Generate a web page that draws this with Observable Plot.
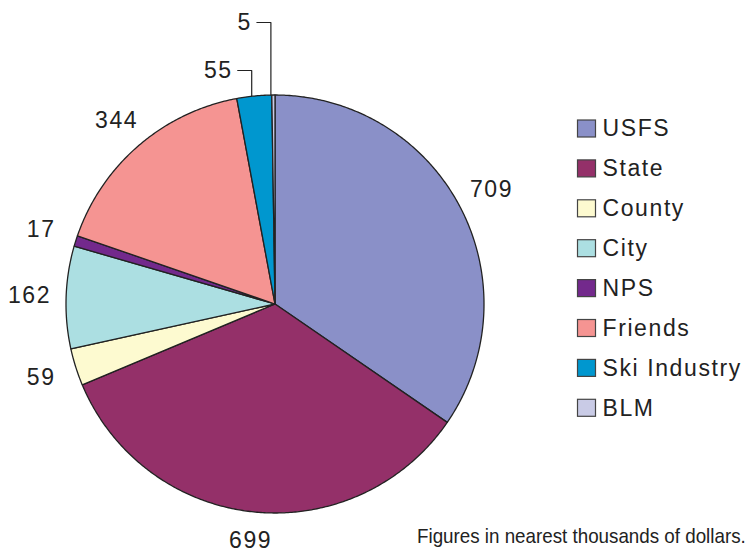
<!DOCTYPE html>
<html>
<head>
<meta charset="utf-8">
<script src="https://cdn.jsdelivr.net/npm/d3@7"></script>
<script src="https://cdn.jsdelivr.net/npm/@observablehq/plot@0.6"></script>
<style>
  html, body { margin: 0; padding: 0; background: #fff; }
  #chart { width: 750px; height: 552px; }
  #chart svg text { font-family: 'Liberation Sans', Arimo, Arial, Helvetica, sans-serif; }
  #chart svg .foot text { font-family: 'Liberation Sans Narrow', 'Liberation Sans', sans-serif; }
</style>
</head>
<body>
<div id="chart"></div>
<script>
// ---- data ----
const categories = ["USFS", "State", "County", "City", "NPS", "Friends", "Ski Industry", "BLM"];
const values = [709, 699, 59, 162, 17, 344, 55, 5];
const colors = ["#8a90c8", "#943069", "#fdfad0", "#acdfe2", "#73298c", "#f59492", "#0097cf", "#c9cbe6"];
const valueLabels = ["709", "699", "59", "162", "17", "344", "55", "5"];
const footnote = "Figures in nearest thousands of dollars.";

// ---- layout (pixels) ----
const W = 750, H = 552, cx = 274.5, cy = 303.5, R = 209;
const dx = px => (px - cx) / R;       // pixel -> data x
const dy = py => (cy - py) / R;       // pixel -> data y

// ---- pie geometry in data units (radius = 1) ----
const total = d3.sum(values);
const slices = [];
let acc = 0;
categories.forEach((c, i) => {
  const a0 = acc / total * 2 * Math.PI;
  acc += values[i];
  const a1 = acc / total * 2 * Math.PI;
  slices.push({cat: c, value: values[i], label: valueLabels[i], a0, a1, mid: (a0 + a1) / 2});
});
const polyPts = [];
for (const s of slices) {
  const n = Math.max(2, Math.ceil((s.a1 - s.a0) / (Math.PI / 360)));
  polyPts.push({cat: s.cat, x: 0, y: 0});
  for (let k = 0; k <= n; k++) {
    const a = s.a0 + (s.a1 - s.a0) * k / n;
    polyPts.push({cat: s.cat, x: Math.sin(a), y: Math.cos(a)});
  }
  polyPts.push({cat: s.cat, x: 0, y: 0});
}

// regular labels outside the pie (further out where labels sit beside the pie)
const normalLabels = slices.slice(0, 6).map(s => {
  const r = 1.135 + 0.04 * Math.abs(Math.sin(s.mid));
  return {text: s.label, x: r * Math.sin(s.mid), y: r * Math.cos(s.mid)};
});

// callout labels for the two thin slices (Ski Industry, BLM)
const calloutLevels = [dy(70), dy(22)];
const calloutXShift = [-0.012, -0.012];
const calloutLen = 14 / R;
const calloutLines = [];
const calloutLabels = [];
slices.slice(6).forEach((s, j) => {
  const ax = Math.sin(s.mid) + calloutXShift[j];
  const ay = Math.cos(s.mid);
  const ly = calloutLevels[j];
  calloutLines.push({id: j, x: ax, y: ay}, {id: j, x: ax, y: ly}, {id: j, x: ax - calloutLen, y: ly});
  calloutLabels.push({text: s.label, x: ax - calloutLen - 5 / R, y: ly});
});

// legend
const legendRows = categories.map((c, i) => {
  const py = 128.5 + 39.9 * i;
  return {cat: c, x1: dx(577.5), x2: dx(595.5), y1: dy(py - 8.5), y2: dy(py + 8.5), tx: dx(602), ty: dy(py)};
});

const textColor = "#222";
const footLeft = 417, footWidth = 329;

const plot = Plot.plot({
  width: W, height: H,
  marginTop: 0, marginRight: 0, marginBottom: 0, marginLeft: 0,
  x: {domain: [dx(0), dx(W)], axis: null},
  y: {domain: [dy(H), dy(0)], axis: null},
  color: {domain: categories, range: colors},
  style: {background: "#fff", overflow: "visible"},
  marks: [
    Plot.line(polyPts, {x: "x", y: "y", z: "cat", fill: "cat", stroke: "#222", strokeWidth: 1.3, strokeLinejoin: "round", curve: "linear"}),
    Plot.text(normalLabels, {x: "x", y: "y", text: "text", fontSize: 23, fill: textColor, textAnchor: "middle", className: "numlab"}),
    Plot.line(calloutLines, {x: "x", y: "y", z: "id", stroke: "#222", strokeWidth: 1.2}),
    Plot.text(calloutLabels, {x: "x", y: "y", text: "text", fontSize: 23, fill: textColor, textAnchor: "end", className: "numlab"}),
    Plot.rect(legendRows, {x1: "x1", x2: "x2", y1: "y1", y2: "y2", fill: "cat", stroke: "#444", strokeWidth: 1.2}),
    Plot.text(legendRows, {x: "tx", y: "ty", text: "cat", fontSize: 23, fill: textColor, textAnchor: "start", className: "leglab"}),
    Plot.text([footnote], {x: dx(footLeft), y: dy(537), text: d => d, fontSize: 20, fill: textColor, textAnchor: "start", className: "foot"})
  ]
});

document.getElementById("chart").appendChild(plot);

// letter spacing for the wide-set label font
d3.select(plot).selectAll(".numlab text, .leglab text").style("letter-spacing", "1.6px");
// footnote: condensed look by scaling horizontally about its left edge
const footG = plot.querySelector(".foot");
const footText = footG.querySelector("text");
const bw = footText.getBBox().width;
const sx = footWidth / bw;
footG.setAttribute("transform", `translate(${footLeft},0) scale(${sx},1) translate(${-footLeft},0)`);
</script>
</body>
</html>
